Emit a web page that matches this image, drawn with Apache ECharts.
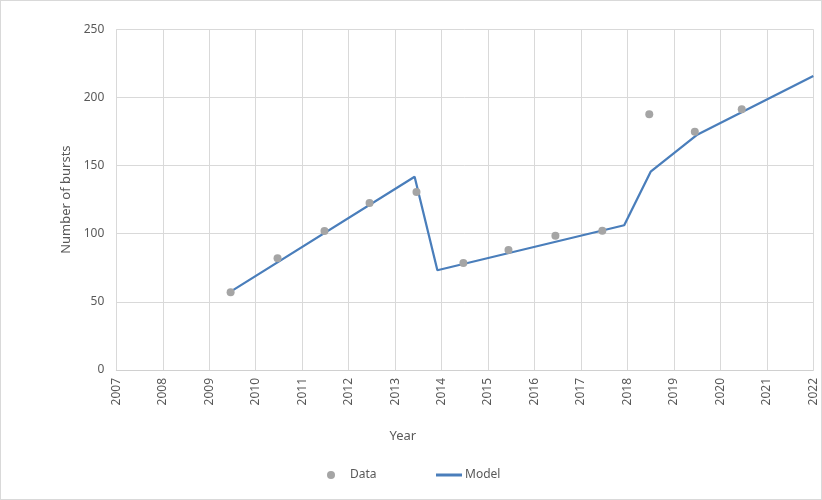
<!DOCTYPE html>
<html>
<head>
<meta charset="utf-8">
<script src="https://cdn.jsdelivr.net/npm/echarts@6/dist/echarts.min.js"></script>
<style>
  html, body { margin: 0; padding: 0; background: #fff; }
  #chart { width: 820px; height: 498px; border: 1px solid #d9d9d9; }
</style>
</head>
<body>
<div id="chart"></div>
<script>
// observed bursts per year
const dataYears = [2009.46, 2010.47, 2011.48, 2012.45, 2013.46, 2014.47, 2015.44, 2016.45, 2017.46, 2018.47, 2019.45, 2020.46];
const dataValues = [57, 82, 102, 122.5, 130.6, 78.5, 88.1, 98.5, 102.2, 187.6, 174.9, 191.3];

// model curve vertices
const modelYears = [2009.46, 2013.42, 2013.91, 2017.93, 2018.5, 2019.49, 2022];
const modelValues = [57.5, 141.8, 73.2, 106.2, 145.5, 172.4, 215.7];

const chart = echarts.init(document.getElementById('chart'));
const font = 'Noto Sans';
const textColor = '#595959';

chart.setOption({
  animation: false,
  grid: { left: 115.3, right: 7.7, top: 28.3, bottom: 129 },
  xAxis: {
    type: 'value',
    min: 2007,
    max: 2022,
    interval: 1,
    name: 'Year',
    nameLocation: 'middle',
    nameGap: 60,
    nameTextStyle: { color: textColor, fontFamily: font, fontSize: 13, padding: [0, 124, 0, 0] },
    axisLine: { show: true, lineStyle: { color: '#d0d0d0' } },
    axisTick: { show: false },
    splitLine: { show: true, lineStyle: { color: '#d9d9d9' } },
    axisLabel: { rotate: 90, color: textColor, fontFamily: font, fontSize: 12, margin: 8, formatter: v => String(v) }
  },
  yAxis: {
    type: 'value',
    min: 0,
    max: 250,
    interval: 50,
    name: 'Number of bursts',
    nameLocation: 'middle',
    nameGap: 40,
    nameTextStyle: { color: textColor, fontFamily: font, fontSize: 13 },
    axisLine: { show: false },
    axisTick: { show: false },
    splitLine: { lineStyle: { color: '#d9d9d9' } },
    axisLabel: { color: textColor, fontFamily: font, fontSize: 12, margin: 12 }
  },
  legend: [
    {
      data: [{ name: 'Data', icon: 'circle' }],
      left: 326, top: 468, padding: 0,
      itemWidth: 8, itemHeight: 8, itemGap: 10,
      textStyle: { color: textColor, fontFamily: font, fontSize: 12, padding: [0, 0, 0, 10] }
    },
    {
      data: [{ name: 'Model', icon: 'rect' }],
      left: 435, top: 468, padding: 0,
      itemWidth: 26, itemHeight: 3, itemGap: 4,
      textStyle: { color: textColor, fontFamily: font, fontSize: 12, padding: [0, 0, 0, -2] }
    }
  ],
  series: [
    {
      name: 'Model',
      type: 'line',
      data: modelYears.map((x, i) => [x, modelValues[i]]),
      showSymbol: false,
      symbol: 'none',
      lineStyle: { color: '#4a7ebb', width: 2.25 },
      itemStyle: { color: '#4a7ebb' },
      z: 2
    },
    {
      name: 'Data',
      type: 'scatter',
      data: dataYears.map((x, i) => [x, dataValues[i]]),
      symbolSize: 8,
      itemStyle: { color: '#a5a5a5', opacity: 1 },
      z: 3
    }
  ]
});
</script>
</body>
</html>
